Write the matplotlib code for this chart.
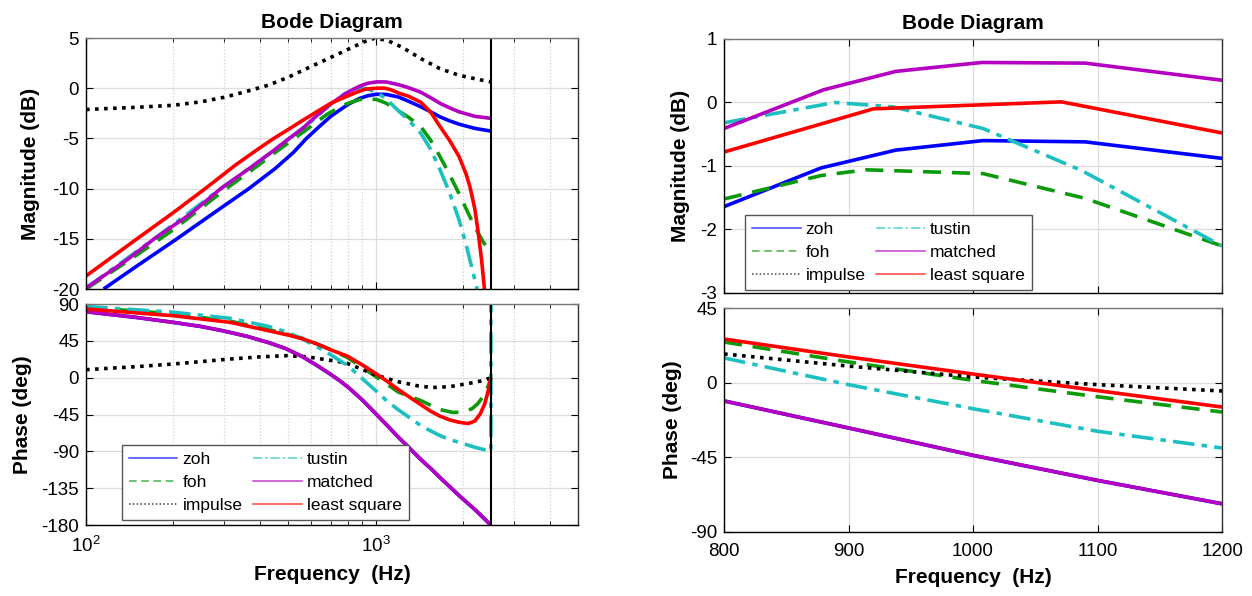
import matplotlib.pyplot as plt
from matplotlib.lines import Line2D

plt.rcParams['font.family'] = ['Liberation Sans', 'DejaVu Sans']
plt.rcParams['axes.unicode_minus'] = False

# ---- left plot: full bode (log freq) ----
f_nyq = 2500

zoh_f = [115, 150, 206, 290, 365, 450, 520, 577, 640, 700, 750, 800, 878, 938, 1008, 1090, 1200,
         1300, 1433, 1550, 1668, 1800, 1941, 2200, 2500]
zoh_mag = [-20, -17.7, -15, -12.0, -10.0, -8.0, -6.4, -5.0, -3.8, -2.8, -2.2, -1.64, -1.03, -0.75, -0.6,
           -0.62, -0.88, -1.3, -1.85, -2.35, -2.85, -3.25, -3.58, -4.0, -4.27]

foh_f = [100, 150, 200, 305, 380, 450, 560, 680, 750, 800, 878, 914, 1008, 1090, 1200, 1300, 1433,
         1550, 1668, 1800, 1941, 2100, 2200, 2350, 2500]
foh_mag = [-20.0, -16.6, -14.1, -10.0, -8.0, -6.4, -4.4, -2.6, -1.9, -1.52, -1.15, -1.06, -1.12, -1.51,
           -2.26, -2.9, -3.84, -5.2, -6.8, -8.6, -10.5, -12.6, -13.8, -15.3, -16.4]

imp_f = [100, 150, 200, 250, 300, 350, 426, 500, 577, 680, 781, 909, 996, 1100, 1231, 1433, 1668,
         1941, 2275, 2500]
imp_mag = [-2.12, -1.9, -1.7, -1.35, -0.9, -0.4, 0.3, 1.1, 1.95, 2.9, 3.71, 4.6, 5.0, 4.75, 4.1, 2.95,
           1.95, 1.29, 0.86, 0.63]

tus_f = [100, 172, 292, 400, 500, 600, 700, 750, 800, 850, 889, 936, 1008, 1087, 1200, 1300, 1433,
         1550, 1668, 1800, 1941, 2050, 2116, 2242]
tus_mag = [-19.9, -15.0, -10.0, -7.2, -5.1, -3.3, -1.6, -0.95, -0.32, -0.05, 0.0, -0.07, -0.41, -1.07,
           -2.26, -3.2, -4.5, -6.1, -8.1, -10.4, -13.1, -15.5, -17.1, -20.0]

mat_f = [100, 140, 172, 230, 292, 370, 440, 503, 560, 600, 700, 800, 880, 938, 1007, 1090, 1200, 1300,
         1433, 1550, 1668, 1800, 1941, 2200, 2500]
mat_mag = [-19.9, -17.0, -15.0, -12.5, -10.0, -7.9, -6.3, -5.0, -4.0, -3.2, -1.55, -0.41, 0.2, 0.49,
           0.63, 0.62, 0.35, 0.05, -0.4, -0.95, -1.5, -1.95, -2.35, -2.8, -3.0]

ls_f = [100, 150, 200, 258, 330, 400, 445, 500, 560, 630, 700, 800, 860, 920, 1000, 1071, 1130, 1200,
        1300, 1433, 1550, 1668, 1800, 1941, 2050, 2116, 2200, 2254, 2320, 2376, 2420]
ls_mag = [-18.7, -15.0, -12.4, -10.0, -7.6, -5.9, -5.0, -4.1, -3.2, -2.3, -1.5, -0.78, -0.4, -0.1, 0.0,
          0.01, -0.15, -0.48, -0.8, -1.4, -2.4, -3.8, -5.2, -6.8, -8.5, -9.8, -12.0, -14.1, -17.0,
          -20.0, -23.0]

mat_pf = [100, 150, 200, 250, 296, 360, 426, 490, 560, 630, 700, 750, 800, 900, 1000, 1100, 1200,
          1300, 1433, 1550, 1668, 1800, 1941, 2200, 2500]
mat_ph = [80.6, 73.5, 67.6, 62.5, 57.4, 50.5, 43.0, 35.5, 25.5, 14.5, 4.0, -3.5, -11.0, -27.3, -43.8,
          -58.9, -73.0, -85, -100, -111, -122, -133, -144, -161, -180]
zoh_pf = mat_pf
zoh_ph = mat_ph

foh_pf = [100, 200, 315, 426, 560, 700, 800, 900, 1000, 1100, 1200, 1433, 1668, 1850, 2000, 2150,
          2250, 2350, 2450, 2500]
foh_ph = [86, 78, 69, 59, 48, 34.5, 24.5, 12.5, 1.4, -8.5, -17.7, -28, -39, -42.5, -42, -38, -32, -23,
          -10, 0]

imp_pf = [100, 150, 200, 315, 400, 496, 580, 673, 740, 800, 900, 1000, 1100, 1200, 1400, 1568, 1800,
          2100, 2350, 2500]
imp_ph = [9.8, 13.5, 16.7, 22.8, 25.5, 26.9, 25.5, 22.0, 20.0, 17.3, 10.0, 3.4, -1.2, -5.0, -10, -12,
          -11, -7, -3.5, 0]

tus_pf = [100, 200, 315, 426, 500, 560, 630, 700, 800, 900, 1000, 1100, 1200, 1300, 1433, 1550, 1668,
          1800, 1941, 2200, 2500, 2500]
tus_ph = [87, 80, 72.5, 62.7, 55, 47, 37.5, 28, 14.9, -1.2, -15.7, -29.3, -39.4, -48, -58.6, -65, -70.8,
          -75.5, -79, -85, -90, 90]

ls_pf = [100, 200, 315, 426, 500, 560, 630, 700, 800, 900, 1000, 1100, 1200, 1300, 1433, 1550, 1668,
         1800, 1941, 2088, 2200, 2300, 2380, 2440, 2480, 2500]
ls_ph = [83.9, 75.7, 67.6, 57.4, 52, 47.5, 41, 34, 26.3, 15.5, 5.2, -4.8, -14.7, -23, -33, -41, -47,
         -51.5, -54.5, -56, -53, -44, -32, -18, -7, 0]

# ---- right plot: zoom 800-1200 Hz (linear) ----
zoh_zf = [800, 878, 938, 1008, 1090, 1200]
zoh_zmag = [-1.64, -1.03, -0.75, -0.60, -0.62, -0.88]
foh_zf = [800, 878, 914, 1008, 1090, 1200]
foh_zmag = [-1.52, -1.15, -1.06, -1.12, -1.51, -2.26]
tus_zf = [800, 889, 936, 1008, 1087, 1200]
tus_zmag = [-0.32, 0.0, -0.07, -0.41, -1.07, -2.26]
mat_zf = [800, 880, 938, 1007, 1090, 1200]
mat_zmag = [-0.41, 0.20, 0.49, 0.63, 0.62, 0.35]
ls_zf = [800, 920, 1071, 1200]
ls_zmag = [-0.78, -0.10, 0.01, -0.48]

z_pf = [800, 900, 1000, 1100, 1200]
zoh_zph = [-11.0, -27.3, -43.8, -58.9, -73.0]
mat_zph = [-11.0, -27.3, -43.8, -58.9, -73.0]
foh_zph = [24.5, 12.5, 1.4, -8.5, -17.7]
imp_zph = [17.3, 10.0, 3.4, -1.2, -5.0]
tus_zph = [14.9, -1.2, -15.7, -29.3, -39.4]
ls_zph = [26.3, 15.5, 5.2, -4.8, -14.7]

labels = ['zoh', 'foh', 'impulse', 'tustin', 'matched', 'least square']
colors = ['#0000ff', '#0a9a0a', '#000000', '#1cc0c0', '#b400c0', '#ff0000']
styles = ['-', (0, (5, 3)), (0, (1, 1.5)), (0, (6, 2, 1.5, 2)), '-', '-']
lw = 2.6

fig = plt.figure(figsize=(12.52, 5.96), dpi=100)
ax1 = fig.add_axes([0.0687, 0.5151, 0.393, 0.4211])
ax2 = fig.add_axes([0.0687, 0.1191, 0.393, 0.3708])
ax3 = fig.add_axes([0.5783, 0.5084, 0.3978, 0.4262])
ax4 = fig.add_axes([0.5783, 0.1074, 0.3978, 0.3758])

left_mag = [(zoh_f, zoh_mag), (foh_f, foh_mag), (imp_f, imp_mag),
            (tus_f, tus_mag), (mat_f, mat_mag), (ls_f, ls_mag)]
left_ph = [(zoh_pf, zoh_ph), (foh_pf, foh_ph), (imp_pf, imp_ph),
           (tus_pf, tus_ph), (mat_pf, mat_ph), (ls_pf, ls_ph)]
right_mag = [(zoh_zf, zoh_zmag), (foh_zf, foh_zmag), (None, None),
             (tus_zf, tus_zmag), (mat_zf, mat_zmag), (ls_zf, ls_zmag)]
right_ph = [(z_pf, zoh_zph), (z_pf, foh_zph), (z_pf, imp_zph),
            (z_pf, tus_zph), (z_pf, mat_zph), (z_pf, ls_zph)]

for ax, data in [(ax1, left_mag), (ax2, left_ph), (ax3, right_mag), (ax4, right_ph)]:
    for (x, y), c, s in zip(data, colors, styles):
        if x is None:
            continue
        ax.plot(x, y, color=c, linestyle=s, linewidth=lw, solid_capstyle='butt',
                solid_joinstyle='round')

for ax in (ax1, ax2):
    ax.axvline(f_nyq, color='black', linewidth=1.5)
    ax.set_xscale('log')
    ax.set_xlim(100, 5000)
    ax.grid(True, which='major', color='#dcdcdc', linewidth=0.9)
    ax.grid(True, which='minor', axis='x', color='#d0d0d0', linestyle=':', linewidth=0.9)

for ax in (ax3, ax4):
    ax.set_xlim(800, 1200)
    ax.set_xticks([800, 900, 1000, 1100, 1200])
    ax.grid(True, color='#dcdcdc', linewidth=0.9)

ax1.set_ylim(-20, 5)
ax1.set_yticks([5, 0, -5, -10, -15, -20])
ax2.set_ylim(-180, 90)
ax2.set_yticks([90, 45, 0, -45, -90, -135, -180])
ax3.set_ylim(-3, 1)
ax3.set_yticks([1, 0, -1, -2, -3])
ax4.set_ylim(-90, 45)
ax4.set_yticks([45, 0, -45, -90])

for ax in (ax1, ax2, ax3, ax4):
    ax.set_axisbelow(True)
    ax.tick_params(which='both', direction='in', top=True, right=True, labelsize=13.5, length=5)
    ax.tick_params(which='minor', length=3)
    ax.tick_params(axis='x', pad=8)
    ax.tick_params(axis='y', pad=5)
    for sp in ax.spines.values():
        sp.set_linewidth(1.0)
    ax.spines['top'].set_color('#777777')
    ax.spines['right'].set_color('#333333')

ax1.tick_params(labelbottom=False)
ax3.tick_params(labelbottom=False)

for ax in (ax1, ax3):
    ax.set_title('Bode Diagram', fontsize=15, fontweight='bold', pad=7)
    ax.set_ylabel('Magnitude (dB)', fontsize=15, fontweight='bold')
for ax in (ax2, ax4):
    ax.set_ylabel('Phase (deg)', fontsize=15, fontweight='bold')
    ax.set_xlabel('Frequency  (Hz)', fontsize=15, fontweight='bold', labelpad=6)

ax1.yaxis.set_label_coords(-0.093, 0.5)
ax2.yaxis.set_label_coords(-0.11, 0.5)
ax3.yaxis.set_label_coords(-0.068, 0.5)
ax4.yaxis.set_label_coords(-0.084, 0.5)

handles = [Line2D([], [], color=c, linestyle=s, linewidth=1.1, alpha=0.75) for c, s in zip(colors, styles)]
for ax, pos in [(ax2, (0.073, 0.023)), (ax3, (0.042, 0.012))]:
    leg = ax.legend(handles, labels, ncol=2, loc='lower left', bbox_to_anchor=pos,
                    fontsize=12.5, frameon=True, fancybox=False, framealpha=1,
                    handlelength=2.8, handletextpad=0.3, columnspacing=0.6,
                    labelspacing=0.45, borderpad=0.4, borderaxespad=0)
    leg.get_frame().set_edgecolor('#555555')
    leg.get_frame().set_linewidth(1.0)

fig.savefig('out.png', dpi=100)
